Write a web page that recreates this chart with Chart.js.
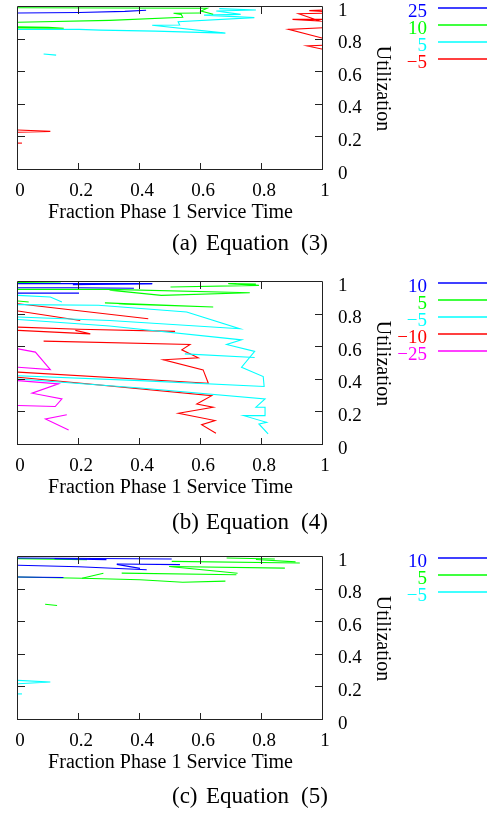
<!DOCTYPE html>
<html>
<head>
<meta charset="utf-8">
<script src="https://cdn.jsdelivr.net/npm/chart.js@4.4.1/dist/chart.umd.min.js"></script>
<style>
  body { margin: 0; background: #fff; }
  canvas { position: absolute; left: 0; }
</style>
</head>
<body>
<canvas id="eq3" width="491" height="270" style="top:0px"></canvas>
<canvas id="eq4" width="491" height="275" style="top:270px"></canvas>
<canvas id="eq5" width="491" height="268" style="top:545px"></canvas>
<script>
// axes shared by the three panels
const xTicks = [0, 0.2, 0.4, 0.6, 0.8, 1];
const xTickLabels = ['0', '0.2', '0.4', '0.6', '0.8', '1'];
const yTicks = [0, 0.2, 0.4, 0.6, 0.8, 1];
const yTickLabels = ['0', '0.2', '0.4', '0.6', '0.8', '1'];
const xTitle = 'Fraction Phase 1 Service Time';
const yTitle = 'Utilization';

// contour levels per panel
const levelsA = ['25', '10', '5', '\u22125'];
const levelsB = ['10', '5', '\u22125', '\u221210', '\u221225'];
const levelsC = ['10', '5', '\u22125'];

const captionA = ['(a)', 'Equation', '(3)'];
const captionB = ['(b)', 'Equation', '(4)'];
const captionC = ['(c)', 'Equation', '(5)'];

// contour segments, points are [fraction phase 1, utilization]
// (a) Equation (3)
const a25 = [
    [[0, 0.963], [0.2, 0.966], [0.35, 0.973], [0.42, 0.98]]
];
const a10 = [
    [[0, 0.995], [0.3, 0.994], [0.62, 0.992], [0.6, 0.975], [0.64, 0.955]],
    [[0, 0.906], [0.3, 0.918], [0.54, 0.937], [0.535, 0.955], [0.51, 0.962], [0.6, 0.963]],
    [[0, 0.878], [0.1, 0.876], [0.15, 0.87], [0, 0.872]]
];
const a5 = [
    [[0, 0.862], [0.2, 0.863], [0.27, 0.858], [0.45, 0.852], [0.68, 0.84], [0.44, 0.888], [0.53, 0.89],
     [0.525, 0.91], [0.775, 0.935], [0.61, 0.95], [0.73, 0.955], [0.65, 0.975], [0.78, 0.982], [0.66, 0.99]],
    [[0.084, 0.712], [0.125, 0.705]]
];
const aM5 = [
    [[1, 0.982], [0.955, 0.978], [1, 0.972]],
    [[1, 0.962], [0.92, 0.959], [0.99, 0.914], [0.9, 0.924], [1, 0.924]],
    [[1, 0.873], [0.887, 0.863], [1, 0.808]],
    [[1, 0.765], [0.948, 0.761], [1, 0.741]],
    [[0, 0.245], [0.106, 0.237], [0, 0.232]],
    [[0, 0.165], [0.013, 0.165]]
];

// (b) Equation (4)
const b10 = [
    [[0, 0.99], [0.44, 0.99]],
    [[0.18, 0.984], [0.44, 0.99]],
    [[0, 0.965], [0.2, 0.965], [0.38, 0.962]],
    [[0, 0.932], [0.2, 0.932]]
];
const b5 = [
    [[0, 0.997], [0.14, 0.994]],
    [[0.5, 0.969], [0.79, 0.979], [0.69, 0.99], [0.78, 0.988]],
    [[0, 0.955], [0.3, 0.955], [0.76, 0.934], [0.47, 0.918], [0.3, 0.95]],
    [[0, 0.883], [0.035, 0.877]],
    [[0.285, 0.872], [0.64, 0.847], [0.33, 0.866]]
];
const bM5 = [
    [[0, 0.918], [0.106, 0.908], [0.144, 0.877]],
    [[0, 0.861], [0.264, 0.857], [0.553, 0.816], [0.727, 0.713], [0.3, 0.764], [0, 0.785]],
    [[0, 0.77], [0.3, 0.73], [0.733, 0.645], [0.684, 0.617], [0.776, 0.574], [0.733, 0.477],
     [0.804, 0.42], [0.807, 0.359], [0.4, 0.395], [0, 0.425]],
    [[0, 0.405], [0.4, 0.35], [0.81, 0.283], [0.78, 0.232], [0.81, 0.232], [0.81, 0.18],
     [0.74, 0.18], [0.815, 0.139], [0.79, 0.129], [0.82, 0.068]],
    [[0.547, 0.559], [0.776, 0.537]]
];
const bM10 = [
    [[0, 0.867], [0.427, 0.775]],
    [[0, 0.822], [0.204, 0.764]],
    [[0, 0.723], [0.2, 0.71], [0.515, 0.697]],
    [[0.188, 0.703], [0.237, 0.682], [0, 0.703]],
    [[0.084, 0.637], [0.564, 0.617], [0.537, 0.584], [0.591, 0.535], [0.477, 0.523], [0.607, 0.461],
     [0.624, 0.379], [0, 0.447]],
    [[0, 0.416], [0.635, 0.303], [0.586, 0.252], [0.64, 0.232], [0.526, 0.195], [0.646, 0.15],
     [0.602, 0.125], [0.649, 0.072]]
];
const bM25 = [
    [[0, 0.59], [0.057, 0.57], [0.106, 0.463], [0, 0.477]],
    [[0, 0.395], [0.133, 0.375], [0.046, 0.318], [0.144, 0.283], [0.122, 0.236], [0, 0.242]],
    [[0.16, 0.186], [0.09, 0.16], [0.166, 0.092]]
];

// (c) Equation (5)
const c10 = [
    [[0, 0.994], [0.504, 0.988]],
    [[0.12, 0.99], [0.29, 0.984]],
    [[0, 0.949], [0.2, 0.94], [0.422, 0.922]],
    [[0.324, 0.957], [0.531, 0.953]],
    [[0.324, 0.955], [0.4, 0.93]],
    [[0, 0.877], [0.149, 0.874]]
];
const c5 = [
    [[0, 0.99], [0.226, 0.984]],
    [[0.504, 0.973], [0.924, 0.963]],
    [[0.684, 0.994], [0.842, 0.988]],
    [[0.78, 0.985], [0.91, 0.97]],
    [[0.496, 0.942], [0.875, 0.932]],
    [[0.496, 0.942], [0.72, 0.9]],
    [[0.34, 0.901], [0.716, 0.891]],
    [[0, 0.877], [0.21, 0.87], [0.28, 0.9]],
    [[0.21, 0.87], [0.4, 0.86], [0.54, 0.845], [0.68, 0.852]],
    [[0.089, 0.71], [0.128, 0.702]]
];
const cM5 = [
    [[0, 0.243], [0.106, 0.233], [0, 0.222]],
    [[0, 0.16], [0.013, 0.16]]
];

const serif = "'Liberation Serif', 'Times New Roman', serif";
const palette = ['#0000ff', '#00ff00', '#00ffff', '#ff0000', '#ff00ff'];

// gnuplot-like frame: box, inward ticks, labels, key and caption
const framePlugin = {
    id: 'frame',
    afterDraw(chart, args, opts) {
        const {ctx, chartArea: a, scales: {x, y}} = chart;
        ctx.save();
        ctx.strokeStyle = '#222';
        ctx.lineWidth = 1;
        ctx.beginPath();
        ctx.rect(a.left - 0.5, a.top - 0.5, a.right - a.left, a.bottom - a.top);
        xTicks.forEach(t => {
            const px = Math.round(x.getPixelForValue(t)) - 0.5;
            ctx.moveTo(px, a.bottom); ctx.lineTo(px, a.bottom - 7);
            ctx.moveTo(px, a.top); ctx.lineTo(px, a.top + 7);
        });
        yTicks.forEach(t => {
            const py = Math.round(y.getPixelForValue(t)) - 0.5;
            ctx.moveTo(a.left, py); ctx.lineTo(a.left + 7, py);
            ctx.moveTo(a.right - 1, py); ctx.lineTo(a.right - 8, py);
        });
        ctx.stroke();

        ctx.fillStyle = '#000';
        ctx.font = `19px ${serif}`;
        ctx.textBaseline = 'alphabetic';
        ctx.textAlign = 'center';
        xTicks.forEach((t, i) => {
            ctx.fillText(xTickLabels[i], x.getPixelForValue(t) + 2, a.bottom + 25.5);
        });
        ctx.textAlign = 'left';
        yTicks.forEach((t, i) => {
            ctx.fillText(yTickLabels[i], a.right + 15, y.getPixelForValue(t) + 8.5);
        });

        ctx.font = `20px ${serif}`;
        ctx.textAlign = 'center';
        ctx.fillText(xTitle, (a.left + a.right) / 2, a.bottom + 47.5);
        ctx.save();
        ctx.translate(a.right + 59, (a.top + a.bottom) / 2);
        ctx.rotate(Math.PI / 2);
        ctx.textBaseline = 'middle';
        ctx.fillText(yTitle, 0, 0);
        ctx.restore();

        // key: coloured level label and a short line sample
        ctx.font = `19px ${serif}`;
        ctx.textAlign = 'right';
        ctx.lineWidth = 1.3;
        opts.levels.forEach((lv, i) => {
            const ly = Math.round(a.top + 1 + i * 17.1);
            ctx.fillStyle = palette[i];
            ctx.strokeStyle = palette[i];
            ctx.fillText(lv, 427, ly + 8.9);
            ctx.beginPath();
            ctx.moveTo(438, ly);
            ctx.lineTo(487, ly);
            ctx.stroke();
        });

        // caption
        ctx.fillStyle = '#000';
        ctx.font = `23px ${serif}`;
        ctx.textAlign = 'left';
        const capX = [172, 206, 301];
        opts.caption.forEach((s, i) => ctx.fillText(s, capX[i], a.bottom + opts.captionGap));
        ctx.restore();
    }
};

function segmentsToDatasets(groups) {
    const datasets = [];
    groups.forEach((segs, i) => {
        segs.forEach(seg => {
            datasets.push({
                data: seg.map(p => ({x: p[0], y: p[1]})),
                showLine: true,
                borderColor: palette[i],
                borderWidth: 1.1,
                pointRadius: 0,
                tension: 0
            });
        });
    });
    return datasets;
}

function newPanel(id, groups, levels, caption, padding, captionGap) {
    return new Chart(document.getElementById(id), {
        type: 'scatter',
        data: { datasets: segmentsToDatasets(groups) },
        options: {
            responsive: false,
            animation: false,
            layout: { padding: padding },
            scales: {
                x: { type: 'linear', min: 0, max: 1, display: false },
                y: { type: 'linear', min: 0, max: 1, display: false }
            },
            plugins: {
                legend: { display: false },
                tooltip: { enabled: false },
                frame: { levels: levels, caption: caption, captionGap: captionGap }
            }
        },
        plugins: [framePlugin]
    });
}

newPanel('eq3', [a25, a10, a5, aM5], levelsA, captionA, {top: 7, left: 18, right: 168, bottom: 100}, 79.5);
newPanel('eq4', [b10, b5, bM5, bM10, bM25], levelsB, captionB, {top: 12, left: 18, right: 168, bottom: 100}, 84);
newPanel('eq5', [c10, c5, cM5], levelsC, captionC, {top: 12, left: 18, right: 168, bottom: 93}, 83);
</script>
</body>
</html>
